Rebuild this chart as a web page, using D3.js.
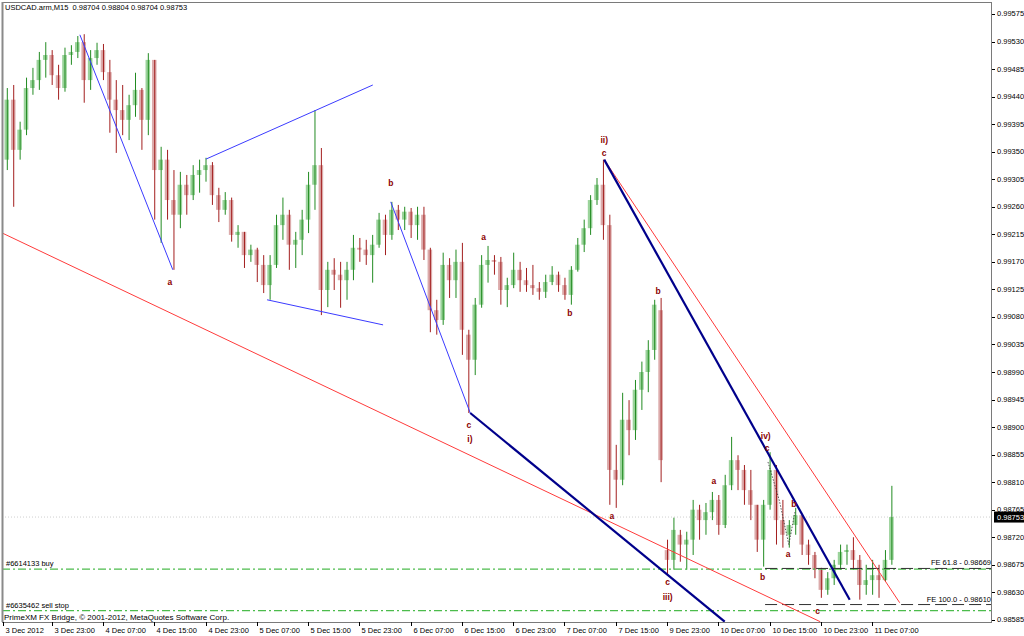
<!DOCTYPE html>
<html><head><meta charset="utf-8">
<script src="https://cdn.jsdelivr.net/npm/d3@7"></script>
<style>
body{margin:0;background:#fff}
svg{display:block}
text{font-family:"Liberation Sans",Arial,sans-serif}
</style>
</head><body>
<svg id="c" width="1024" height="636"></svg>
<script>
// ---------- DATA (hourly OHLC, prices in points = price*1e5) ----------
const symbolTitle = "USDCAD.arm,M15  0.98704 0.98804 0.98704 0.98753";
const copyright = "PrimeXM FX Bridge, \u00A9 2001-2012, MetaQuotes Software Corp.";
const firstBarIndex = -7; // bar index of first candle (0 = 3 Dec 23:00)
const opens = [99337,99435,99353,99386,99454,99467,99500,99508,99475,99454,
99508,99513,99529,99467,99503,99516,99480,99435,99418,99402,
99426,99451,99402,99500,99320,99337,99271,99247,99296,99279,
99312,99320,99328,99279,99255,99271,99214,99219,99181,99190,
99165,99132,99165,99230,99247,99198,99206,99239,99296,99328,
99124,99157,99149,99140,99157,99193,99190,99181,99198,99239,
99214,99255,99239,99252,99230,99247,99190,99091,99075,99165,
99140,99170,99051,99010,99100,99165,99173,99170,99124,99132,
99157,99140,99132,99127,99121,99137,99149,99132,99116,99157,
99198,99225,99271,99296,99230,98830,98814,98912,98895,98961,
98990,99026,99091,98699,98683,98724,98708,98716,98765,98748,
98761,98781,98740,98805,98846,98830,98797,98773,98716,98773,
98830,98748,98724,98740,98756,98708,98691,98667,98634,98653,
98675,98696,98699,98683,98642,98650,98658,98650,98683];
const highs = [99454,99459,99399,99471,99487,99513,99529,99516,99492,99520,
99524,99539,99542,99516,99528,99526,99500,99467,99459,99443,
99479,99454,99511,99500,99358,99353,99320,99317,99312,99328,
99337,99340,99333,99291,99284,99275,99230,99219,99198,99193,
99181,99181,99247,99275,99255,99219,99255,99317,99418,99356,
99170,99176,99170,99170,99214,99209,99206,99214,99250,99247,
99268,99263,99260,99258,99260,99260,99193,99108,99185,99176,
99190,99201,99059,99111,99181,99196,99181,99178,99144,99185,
99170,99160,99165,99137,99149,99163,99154,99144,99163,99209,
99239,99279,99307,99337,99247,98871,98956,98944,98977,99007,
99042,99108,99111,98716,98752,98732,98729,98781,98773,98776,
98794,98789,98822,98884,98854,98838,98830,98773,98781,98859,
98838,98781,98748,98768,98756,98716,98696,98670,98663,98683,
98708,98708,98720,98691,98675,98683,98675,98699,98804];
const lows = [99320,99260,99337,99377,99443,99451,99471,99459,99435,99448,
99492,99503,99430,99451,99492,99467,99381,99348,99377,99369,
99407,99353,99377,99239,99201,99239,99157,99225,99247,99271,
99283,99301,99263,99235,99247,99203,99193,99160,99170,99137,
99119,99108,99160,99206,99157,99160,99181,99217,99255,99083,
99096,99124,99095,99108,99140,99170,99165,99136,99193,99181,
99206,99222,99222,99209,99206,99173,99055,99051,99067,99111,
99111,99018,98923,98985,99095,99136,99149,99100,99096,99127,
99121,99121,99116,99108,99111,99132,99121,99108,99100,99154,
99186,99214,99263,99206,98773,98768,98805,98854,98879,98928,
98957,99010,98810,98658,98667,98680,98667,98691,98716,98724,
98748,98724,98735,98797,98797,98773,98748,98696,98672,98765,
98708,98703,98703,98724,98691,98675,98653,98621,98626,98642,
98667,98675,98667,98618,98626,98626,98621,98647,98675];
const closes = [99435,99353,99386,99454,99467,99500,99508,99475,99454,99508,
99513,99529,99467,99503,99516,99480,99435,99418,99402,99426,
99451,99402,99500,99320,99337,99271,99247,99296,99279,99312,
99320,99328,99279,99255,99271,99214,99219,99181,99190,99165,
99132,99165,99230,99247,99198,99206,99239,99296,99328,99124,
99157,99149,99140,99157,99193,99190,99181,99198,99239,99214,
99255,99239,99252,99230,99247,99190,99091,99075,99165,99140,
99170,99059,99010,99100,99165,99173,99170,99124,99132,99157,
99140,99132,99127,99121,99137,99149,99132,99116,99157,99198,
99225,99271,99296,99230,98830,98814,98912,98895,98961,98990,
99026,99100,98846,98683,98732,98708,98716,98765,98748,98761,
98781,98740,98805,98846,98830,98797,98773,98716,98773,98830,
98748,98724,98740,98756,98708,98691,98667,98634,98653,98675,
98696,98699,98683,98642,98650,98658,98650,98683,98753];

const priceTicks = [0.99575,0.99530,0.99485,0.99440,0.99395,0.99350,0.99305,0.99260,0.99215,0.99170,0.99125,0.99080,0.99035,0.98990,0.98945,0.98900,0.98855,0.98810,0.98765,0.98720,0.98675,0.98630,0.98585];
const timeTickIdx = [-7.6,0,8,16,24,32,40,48,56,64,72,80,88,96,104,112,120,128];
const timeTickLabels = ["3 Dec 2012","3 Dec 23:00","4 Dec 07:00","4 Dec 15:00","4 Dec 23:00","5 Dec 07:00","5 Dec 15:00","5 Dec 23:00","6 Dec 07:00","6 Dec 15:00","6 Dec 23:00","7 Dec 07:00","7 Dec 15:00","9 Dec 23:00","10 Dec 07:00","10 Dec 15:00","10 Dec 23:00","11 Dec 07:00"];
const lastPrice = 0.98753;

// trend lines [t1, p1, t2, p2]
const blueLines = [[4.4,0.99541,18.9,0.99157],[24.1,0.99338,50.1,0.99459],[33.6,0.99108,51.7,0.99067],[52.9,0.99268,65.3,0.98923]];
const navyLines = [[65.3,0.98923,105.0,0.98582],[86.2,0.99337,124.5,0.98618]];
const redLines = [[-8.1,0.99219,119.9,0.98582],[86.2,0.99337,132.3,0.98613]];
const waveGuide = [[111.75,0.98843],[113.5,0.98781],[115.0,0.98708],[115.95,0.98761]];
// order lines
const orders = [{label:"#6614133 buy",price:0.98668},{label:"#6635462 sell stop",price:0.98600}];
// Fibonacci expansion levels
const feLevels = [{label:"FE 61.8 - 0.98669",price:0.98669,start:111.3},{label:"FE 100.0 - 0.98610",price:0.98610,start:111.3}];
// wave labels
const waveLabels = [
 {t:"a",i:18.45,p:0.99137},{t:"b",i:52.93,p:0.99299},{t:"c",i:65.1,p:0.98904},{t:"i)",i:65.25,p:0.98881},
 {t:"a",i:67.4,p:0.99211},{t:"b",i:80.85,p:0.99087},{t:"ii)",i:86.2,p:0.99369},{t:"c",i:86.2,p:0.99348},
 {t:"b",i:94.6,p:0.99122},{t:"a",i:87.4,p:0.98755},{t:"c",i:96.1,p:0.98647},{t:"iii)",i:96.1,p:0.98623},
 {t:"a",i:103.3,p:0.98812},{t:"iv)",i:111.4,p:0.98886},{t:"c",i:111.6,p:0.98866},{t:"b",i:110.9,p:0.98655},
 {t:"a",i:114.9,p:0.98693},{t:"b",i:115.8,p:0.98774},{t:"c",i:119.5,p:0.98600}
];

// ---------- DRAW ----------
const L=2,R=992,T=2,B=622;
const svg = d3.select("#c");
const x = d3.scaleLinear().domain([-7.75,146.7]).range([L,R]);
const y = d3.scaleLinear().domain([0.985815,0.995946]).range([B,T]);

svg.append("defs").append("clipPath").attr("id","clip")
  .append("rect").attr("x",L).attr("y",T).attr("width",R-L).attr("height",B-T);

const plot = svg.append("g").attr("clip-path","url(#clip)");

// current price line
plot.append("line").attr("x1",L).attr("x2",R).attr("y1",y(lastPrice)).attr("y2",y(lastPrice))
  .attr("stroke","#cfcfcf").attr("stroke-dasharray","1,2");

// candles
const bars = opens.map((o,i)=>({t:firstBarIndex+i,o:o/1e5,h:highs[i]/1e5,l:lows[i]/1e5,c:closes[i]/1e5}));
const cg = plot.append("g");
bars.forEach(d=>{
  const up = d.c>=d.o;
  const cx = x(d.t);
  const top = y(Math.max(d.o,d.c)), bot = y(Math.min(d.o,d.c));
  cg.append("rect").attr("x",cx-2.3).attr("width",4.6).attr("y",top).attr("height",Math.max(1,bot-top))
    .attr("fill", up ? "#9bd39b" : "#dcabab");
  cg.append("line").attr("x1",cx+0.5).attr("x2",cx+0.5).attr("y1",y(d.h)).attr("y2",y(d.l))
    .attr("stroke", up ? "#228b22" : "#a31f1f").attr("stroke-width",1);
});

// order lines (green dash-dot)
orders.forEach(o=>{
  plot.append("line").attr("x1",L).attr("x2",R).attr("y1",y(o.price)).attr("y2",y(o.price))
    .attr("stroke","#4cbc4c").attr("stroke-width",1.2).attr("stroke-dasharray","8,3,2,3");
  svg.append("text").attr("x",6).attr("y",y(o.price)-3).attr("font-size","7.5px").attr("fill","#000").text(o.label);
});

// FE lines
feLevels.forEach(f=>{
  plot.append("line").attr("x1",x(f.start)).attr("x2",R).attr("y1",y(f.price)).attr("y2",y(f.price))
    .attr("stroke","#303030").attr("stroke-width",1).attr("stroke-dasharray","12,5");
});

// trend lines
const seg = (arr,color,w)=>arr.forEach(s=>{
  plot.append("line").attr("x1",x(s[0])).attr("y1",y(s[1])).attr("x2",x(s[2])).attr("y2",y(s[3]))
    .attr("stroke",color).attr("stroke-width",w);
});
seg(redLines,"#ff3b3b",1);
seg(blueLines,"#3b3bff",1);
seg(navyLines,"#00008b",2.2);
plot.append("path").attr("d",d3.line().x(d=>x(d[0])).y(d=>y(d[1]))(waveGuide))
  .attr("fill","none").attr("stroke","#333").attr("stroke-width",0.8).attr("stroke-dasharray","1.5,1.5");

// FE labels (clipped at axis)
feLevels.forEach(f=>{
  plot.append("text").attr("x",R-1).attr("y",y(f.price)-3).attr("text-anchor","end")
    .attr("font-size","7.5px").attr("fill","#000").text(f.label);
});

// wave labels
svg.append("g").selectAll("text").data(waveLabels).join("text")
  .attr("x",d=>x(d.i)).attr("y",d=>y(d.p)).attr("text-anchor","middle").attr("dominant-baseline","central")
  .attr("font-size","8.5px").attr("font-weight","bold").attr("fill","#8b0000").text(d=>d.t);

// frame
svg.append("rect").attr("x",L+0.5).attr("y",T+0.5).attr("width",R-L-1).attr("height",B-T)
  .attr("fill","none").attr("stroke","#7a7a7a").attr("stroke-width",1);
svg.append("line").attr("x1",L+0.5).attr("x2",L+0.5).attr("y1",T).attr("y2",B).attr("stroke","#8a8a8a").attr("stroke-width",2);

// price axis
const pa = svg.append("g");
priceTicks.forEach(p=>{
  pa.append("line").attr("x1",R).attr("x2",R+3).attr("y1",Math.round(y(p))+0.5).attr("y2",Math.round(y(p))+0.5).attr("stroke","#000");
  pa.append("text").attr("x",R+5).attr("y",y(p)).attr("dominant-baseline","central")
    .attr("font-size","7.5px").attr("fill","#000").text(p.toFixed(5));
});
pa.append("rect").attr("x",R+2).attr("y",y(lastPrice)-5.5).attr("width",30).attr("height",11).attr("fill","#000");
pa.append("text").attr("x",R+5).attr("y",y(lastPrice)).attr("dominant-baseline","central")
  .attr("font-size","7.5px").attr("fill","#fff").text(lastPrice.toFixed(5));

// time axis
const ta = svg.append("g");
timeTickIdx.forEach((t,i)=>{
  const xx = Math.round(x(t))+0.5;
  ta.append("line").attr("x1",xx).attr("x2",xx).attr("y1",B).attr("y2",B+4).attr("stroke","#000");
  ta.append("text").attr("x",xx+2).attr("y",633).attr("font-size","7.5px").attr("fill","#000").text(timeTickLabels[i]);
});

// header & copyright
svg.append("text").attr("x",5).attr("y",10).attr("font-size","7.5px").attr("fill","#000").attr("xml:space","preserve").style("white-space","pre").text(symbolTitle);
svg.append("text").attr("x",4).attr("y",620).attr("font-size","8px").attr("fill","#000").text(copyright);
</script>
</body></html>
